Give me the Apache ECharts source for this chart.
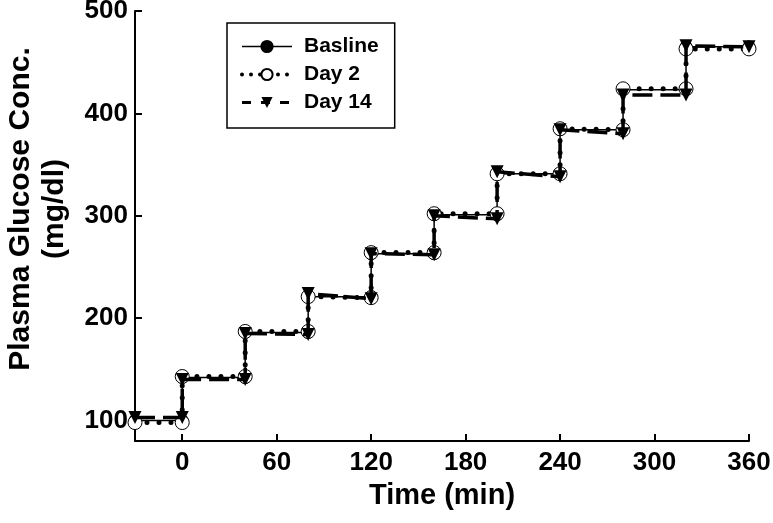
<!DOCTYPE html>
<html>
<head>
<meta charset="utf-8">
<script src="https://cdn.jsdelivr.net/npm/echarts@6/dist/echarts.min.js"></script>
<style>html,body{margin:0;padding:0;background:#fff}#c{width:773px;height:523px}</style>
</head>
<body>
<div id="c"></div>
<script>
var times = [-30, 0, 0, 40, 40, 80, 80, 120, 120, 160, 160, 200, 200, 240, 240, 280, 280, 320, 320, 360];
var baseline = [100, 100, 142, 142, 186, 186, 221, 221, 263, 263, 301, 301, 341, 341, 384, 384, 423, 423, 465, 465];
var day2 = [98, 98, 143, 143, 187, 187, 221, 220, 264, 264, 302, 302, 341, 341, 385, 384, 424, 424, 463, 463];
var day14 = [103, 103, 140, 140, 185, 184, 224, 219, 263, 262, 300, 297, 343, 338, 384, 380, 418, 418, 466, 465];
var xTicks = [0, 60, 120, 180, 240, 300, 360];
var yTicks = [100, 200, 300, 400, 500];
var seriesNames = ['Basline', 'Day 2', 'Day 14'];

function pairs(vals) { return times.map(function (t, i) { return [t, vals[i]]; }); }

var FONT = '"Liberation Sans", Arial, sans-serif';
var chart = echarts.init(document.getElementById('c'), null, { renderer: 'canvas' });
chart.setOption({
  animation: false,
  backgroundColor: '#fff',
  grid: { left: 135, right: 24, top: 11, bottom: 82, containLabel: false, outerBoundsMode: 'none' },
  legend: {
    orient: 'vertical', left: 227, top: 23,
    padding: [13, 16, 15, 13],
    itemWidth: 50, itemHeight: 14, itemGap: 7,
    borderColor: '#000', borderWidth: 1.5,
    textStyle: { fontFamily: FONT, fontWeight: 'bold', fontSize: 21, color: '#000', padding: [0, 0, 0, 7] },
    data: [
      { name: seriesNames[0], lineStyle: { color: '#000', width: 1.5, type: 'solid' } },
      { name: seriesNames[1], lineStyle: { color: '#000', width: 4, type: [0, 9], cap: 'round' } },
      { name: seriesNames[2], lineStyle: { color: '#000', width: 3, type: [9, 10] } }
    ]
  },
  xAxis: {
    type: 'value', min: -30, max: 360,
    name: 'Time (min)', nameLocation: 'middle', nameGap: 40,
    nameTextStyle: { fontFamily: FONT, fontWeight: 'bold', fontSize: 29, color: '#000' },
    axisLine: { show: true, onZero: false, lineStyle: { color: '#000', width: 2 } },
    axisTick: { show: true, inside: true, length: 7, customValues: xTicks, lineStyle: { color: '#000', width: 2 } },
    axisLabel: { customValues: xTicks, fontFamily: FONT, fontWeight: 'bold', fontSize: 26, color: '#000', margin: 9 },
    splitLine: { show: false }
  },
  yAxis: {
    type: 'value', min: 80, max: 500,
    name: 'Plasma Glucose Conc.\n(mg/dl)', nameLocation: 'middle', nameGap: 63, nameRotate: 90,
    nameTextStyle: { fontFamily: FONT, fontWeight: 'bold', fontSize: 30, color: '#000', lineHeight: 34, padding: [0, 0, 0, 34] },
    axisLine: { show: true, onZero: false, lineStyle: { color: '#000', width: 2 } },
    axisTick: { show: true, inside: true, length: 7, customValues: yTicks, lineStyle: { color: '#000', width: 2 } },
    axisLabel: { customValues: yTicks, fontFamily: FONT, fontWeight: 'bold', fontSize: 26, color: '#000', margin: 7 },
    splitLine: { show: false }
  },
  series: [
    {
      name: seriesNames[0], type: 'line', data: pairs(baseline), z: 2,
      symbol: 'circle', symbolSize: 12,
      itemStyle: { color: '#000', borderColor: '#000', borderWidth: 1 },
      lineStyle: { color: '#000', width: 1.5, type: 'solid' }
    },
    {
      name: seriesNames[1], type: 'line', data: pairs(day2), z: 3,
      symbol: 'circle', symbolSize: 14,
      itemStyle: { color: '#fff', borderColor: '#000', borderWidth: 1 },
      lineStyle: { color: '#000', width: 5, type: [0, 12], cap: 'round' }
    },
    {
      name: seriesNames[2], type: 'line', data: pairs(day14), z: 4,
      symbol: 'triangle', symbolSize: 13, symbolRotate: 180,
      itemStyle: { color: '#000', borderColor: '#000', borderWidth: 0 },
      lineStyle: { color: '#000', width: 3.5, type: [20, 8] }
    }
  ]
});
</script>
</body>
</html>
